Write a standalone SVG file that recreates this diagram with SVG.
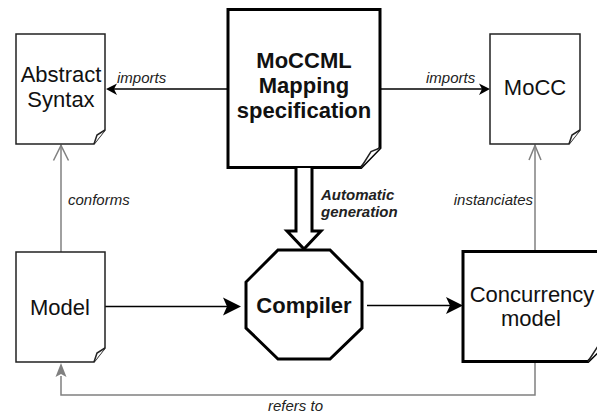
<svg xmlns="http://www.w3.org/2000/svg" width="597" height="416" viewBox="0 0 597 416">
<defs>
<style>
.doc{fill:#fff;stroke:#222;stroke-width:1.5;stroke-linejoin:miter}
.thick{stroke:#000;stroke-width:3}
.fold{fill:#fff;stroke:#222;stroke-width:1.5;stroke-linejoin:miter}
.lbl{font-family:"Liberation Sans",Arial,sans-serif;font-size:22px;fill:#111;text-anchor:middle}
.b{font-weight:bold}
.edge{font-family:"Liberation Sans",Arial,sans-serif;font-size:15px;font-style:italic;fill:#222}
.blk{stroke:#000;stroke-width:1.5;fill:none}
.gray{stroke:#808080;stroke-width:1.5;fill:none}
</style>
</defs>
<g id="connectors">
<line class="blk" x1="228" y1="89" x2="112" y2="89"/>
<polygon points="106,89 117,83.5 114,89 117,95" fill="#000"/>
<text class="edge" x="117" y="83">imports</text>
<line class="blk" x1="380" y1="89" x2="484" y2="89"/>
<polygon points="490,89 479,83.5 482,89 479,95" fill="#000"/>
<text class="edge" x="426" y="83">imports</text>
<line class="blk" x1="105" y1="306.5" x2="228" y2="306.5"/>
<polygon points="241,306.5 223,297.5 227,306.5 223,315.5" fill="#000"/>
<line class="blk" x1="367" y1="305.5" x2="450" y2="305.5"/>
<polygon points="463,305.5 446,297 450,305.5 446,314" fill="#000"/>
<line class="gray" x1="61" y1="252" x2="61" y2="145"/>
<path class="gray" d="M53.5,160.5 L61,145.5 L68.5,160.5"/>
<text class="edge" x="68" y="205">conforms</text>
<line class="gray" x1="535" y1="251" x2="535" y2="145"/>
<path class="gray" d="M529,160 L535,145.5 L541,160"/>
<text class="edge" x="533" y="205" text-anchor="end">instanciates</text>
<path class="gray" d="M535,362 V395 H61 V376"/>
<polygon points="61,363 55.5,377 61,374 66.5,377" fill="#808080"/>
<text class="edge" x="268" y="411">refers to</text>
<text class="edge" font-weight="bold" font-size="14"><tspan x="321" y="200.3">Automatic</tspan><tspan x="321" y="216.8">generation</tspan></text>
</g>
<g id="abstract-syntax">
<path class="doc" d="M16,34 H105 V130 L94,144 H16 Z"/>
<path class="fold" d="M105,130 L97,135 L94,144"/>
<text class="lbl"><tspan x="61" y="82">Abstract</tspan><tspan x="61" y="107">Syntax</tspan></text>
</g>
<g id="mocc">
<path class="doc" d="M490,34 H580 V130 L569,144 H490 Z"/>
<path class="fold" d="M580,130 L572,135 L569,144"/>
<text class="lbl" x="535" y="95">MoCC</text>
</g>
<g id="model">
<path class="doc" d="M16,252 H105 V348 L94,362 H16 Z"/>
<path class="fold" d="M105,348 L97,353 L94,362"/>
<text class="lbl" x="60" y="315">Model</text>
</g>
<g id="mapping-spec">
<path class="doc thick" d="M228,9.5 H380 V148 L361,167.5 H228 Z"/>
<path class="fold thick" d="M380,148 L371,151.5 L361,167.5"/>
<text class="lbl b"><tspan x="304" y="68">MoCCML</tspan><tspan x="304" y="93">Mapping</tspan><tspan x="304" y="118">specification</tspan></text>
</g>
<g id="generation-arrow">
<path d="M296,168 V231 H287 L304,249 L321,231 H312 V168" fill="#fff" stroke="#000" stroke-width="3" stroke-linejoin="miter"/>
</g>
<g id="compiler">
<polygon points="278,250 330,250 362,282 362,328 330,359 278,359 246,328 246,282" fill="#fff" stroke="#000" stroke-width="3"/>
<text class="lbl b" x="304" y="313">Compiler</text>
</g>
<g id="concurrency-model">
<path class="doc thick" d="M463,251.5 H608 V342 L588,361.5 H463 Z"/>
<path class="fold thick" d="M608,342 L598,346 L588,361.5"/>
<text class="lbl"><tspan x="532" y="302">Concurrency</tspan><tspan x="531" y="326">model</tspan></text>
</g>
</svg>
